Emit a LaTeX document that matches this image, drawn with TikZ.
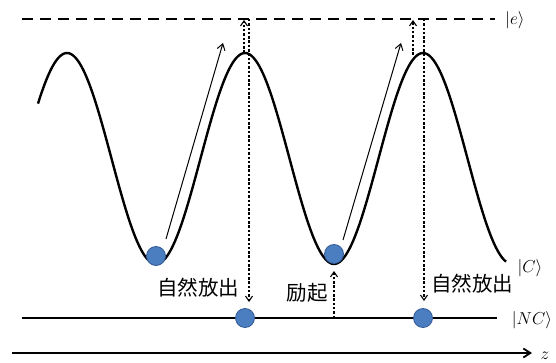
\documentclass[tikz,border=0pt]{standalone}
\usepackage{fontspec}
\newfontfamily\cjk{Noto Sans CJK JP}
\usetikzlibrary{arrows.meta}
\definecolor{ballblue}{RGB}{74,126,193}
\definecolor{balledge}{RGB}{52,90,150}
\tikzset{
  levelline/.style={line width=1.8pt, dash pattern=on 11pt off 7pt},
  wave/.style={line width=2.4pt},
  groundline/.style={line width=1.8pt},
  ball/.style={circle, fill=ballblue, draw=balledge, line width=0.8pt, minimum size=19pt, inner sep=0pt},
  motion/.style={line width=1pt, -{Straight Barb[length=6pt,width=8pt]}},
  transition/.style={line width=1.1pt, dash pattern=on 2.5pt off 1.8pt, -{Straight Barb[length=5pt,width=7pt]}},
  jplabel/.style={font=\cjk\fontsize{20.5}{20.5}\selectfont, inner sep=0pt},
  ketlabel/.style={font=\fontsize{19}{19}\selectfont, inner sep=0pt},
}
\begin{document}
\begin{tikzpicture}[x=1pt,y=-1pt]
\useasboundingbox (0,0) rectangle (556,363);
% levels
\coordinate (eL) at (22,19); \coordinate (eR) at (495,19);
\draw[levelline] (eL) -- (eR);
\node[ketlabel] (ket-e) at (515,20) {$|e\rangle$};
\coordinate (ncL) at (22,318); \coordinate (ncR) at (497,318);
\draw[groundline] (ncL) -- (ncR);
\node[ketlabel] (ket-nc) at (532,320) {$|NC\rangle$};
\coordinate (zL) at (12,353); \coordinate (zR) at (532,353);
\draw[line width=1.8pt, -{Straight Barb[length=7pt,width=9pt]}] (zL) -- (zR);
\node[ketlabel] (zlab) at (545,356) {$z$};
% wave
\draw[wave] plot[domain=38:506, samples=240, smooth] (\x, {158.5-105.5*cos(2.02247*(\x-67))});
\node[ketlabel] (ket-c) at (530,268) {$|C\rangle$};
% motion arrows
\coordinate (m1a) at (166,239); \coordinate (m1b) at (223,43);
\coordinate (m2a) at (343,240); \coordinate (m2b) at (401,43);
\draw[motion] (m1a) -- (m1b);
\draw[motion] (m2a) -- (m2b);
% transitions
\coordinate (u1a) at (244,53); \coordinate (u1b) at (244,20);
\coordinate (u2a) at (413,55); \coordinate (u2b) at (413,20);
\coordinate (d1a) at (249,19); \coordinate (d1b) at (249,302);
\coordinate (d2a) at (424,19); \coordinate (d2b) at (424,301);
\coordinate (xa) at (334,318); \coordinate (xb) at (334,271);
\draw[transition] (u1a) -- (u1b);
\draw[transition] (u2a) -- (u2b);
\draw[transition] (d1a) -- (d1b);
\draw[transition] (d2a) -- (d2b);
\draw[transition] (xa) -- (xb);
% balls
\node[ball] (b1) at (156,256) {};
\node[ball] (b2) at (334,254) {};
\node[ball] (b3) at (245,318) {};
\node[ball] (b4) at (423,318) {};
% labels
\node[jplabel] (em1) at (198,288) {自然放出};
\node[jplabel] (em2) at (472,284) {自然放出};
\node[jplabel] (exc) at (307,293) {励起};
\end{tikzpicture}
\end{document}
